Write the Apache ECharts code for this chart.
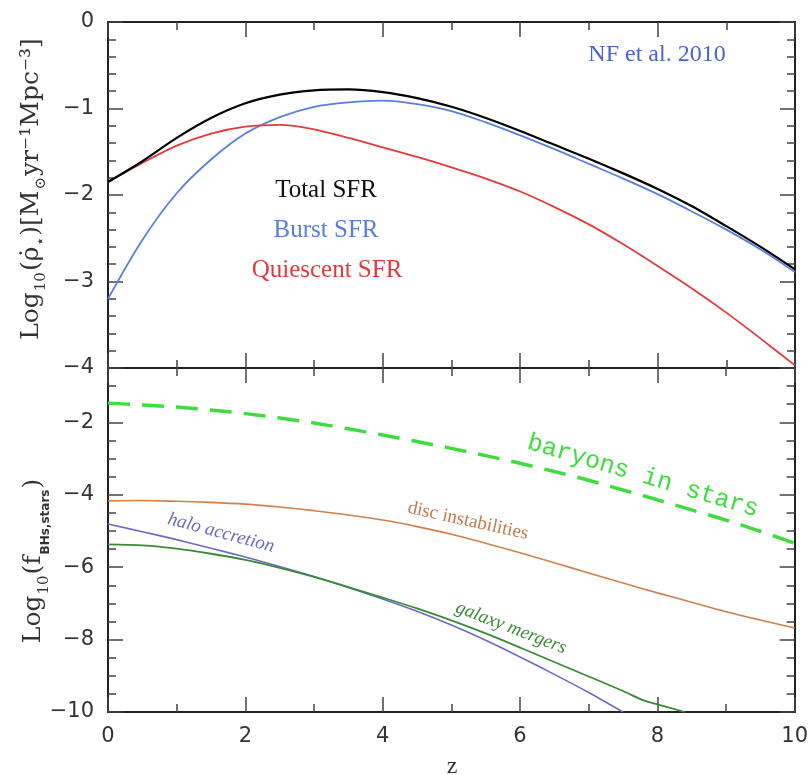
<!DOCTYPE html>
<html>
<head>
<meta charset="utf-8">
<script src="https://cdn.jsdelivr.net/npm/echarts@6/dist/echarts.min.js"></script>
<style>html,body{margin:0;padding:0;background:#fff;}#c{width:811px;height:775px;}</style>
</head>
<body>
<div id="c"></div>
<script>
// ---- data ----
const z = [0,0.5,1,1.5,2,2.5,3,3.5,4,4.5,5,5.5,6,6.5,7,7.5,8,8.5,9,9.5,10];
const totalSFR      = [-1.85,-1.61,-1.34,-1.11,-0.94,-0.84,-0.79,-0.78,-0.81,-0.88,-0.98,-1.11,-1.26,-1.42,-1.58,-1.75,-1.93,-2.13,-2.36,-2.60,-2.86];
const burstSFR      = [-3.20,-2.52,-1.98,-1.59,-1.29,-1.10,-0.98,-0.93,-0.91,-0.95,-1.03,-1.16,-1.31,-1.47,-1.64,-1.81,-1.99,-2.19,-2.40,-2.63,-2.89];
const quiescentSFR  = [-1.85,-1.63,-1.43,-1.29,-1.21,-1.19,-1.24,-1.34,-1.45,-1.56,-1.68,-1.81,-1.96,-2.14,-2.34,-2.57,-2.82,-3.08,-3.36,-3.66,-3.97];
const baryonsInStars    = [-1.47,-1.52,-1.58,-1.66,-1.76,-1.88,-2.02,-2.18,-2.35,-2.53,-2.72,-2.92,-3.13,-3.36,-3.60,-3.87,-4.14,-4.42,-4.70,-5.01,-5.34];
const discInstabilities = [-4.17,-4.16,-4.18,-4.21,-4.26,-4.34,-4.44,-4.56,-4.70,-4.88,-5.09,-5.34,-5.60,-5.88,-6.16,-6.44,-6.71,-6.97,-7.23,-7.46,-7.68];
const zHalo = [0,0.5,1,1.5,2,2.5,3,3.5,4,4.5,5,5.5,6,6.5,7,7.5];
const haloAccretion = [-4.81,-5.02,-5.24,-5.48,-5.72,-5.98,-6.26,-6.56,-6.88,-7.22,-7.60,-8.02,-8.48,-8.96,-9.46,-10.0];
const zMergers = [0,0.5,1,1.5,2,2.5,3,3.5,4,4.5,5,5.5,6,6.5,7,7.5,7.8,8,8.4];
const galaxyMergers = [-5.37,-5.40,-5.49,-5.63,-5.80,-6.02,-6.27,-6.55,-6.84,-7.14,-7.47,-7.83,-8.22,-8.62,-9.02,-9.42,-9.68,-9.79,-10.0];
const xTicks = [0,2,4,6,8,10];

const pair = (xs, ys) => xs.map((x, i) => [x, ys[i]]);
const minus = v => String(v).replace('-', '\u2212');

const axisCol = '#222';
function xAx(grid, pos, labels) {
  return {
    type: 'value', gridIndex: grid, position: pos, min: 0, max: 10, interval: 2,
    axisLine: { show: true, onZero: false, lineStyle: { color: axisCol, width: 2 } },
    axisTick: { show: true, inside: true, length: 15, lineStyle: { color: '#444', width: 1.5 } },
    minorTick: { show: true, splitNumber: 2, length: 8, lineStyle: { color: '#444', width: 1.5 } },
    splitLine: { show: false },
    axisLabel: { show: labels, fontFamily: 'DejaVu Sans', fontSize: 21, color: '#333', margin: 14,
      formatter: v => xTicks.includes(v) ? String(v) : '' }
  };
}
function yAx(grid, pos, labels, min, max, interval, minorSplit) {
  return {
    type: 'value', gridIndex: grid, position: pos, min: min, max: max, interval: interval,
    axisLine: { show: true, onZero: false, lineStyle: { color: axisCol, width: 2 } },
    axisTick: { show: true, inside: true, length: 15, lineStyle: { color: '#444', width: 1.5 } },
    minorTick: { show: true, splitNumber: minorSplit, length: 8, lineStyle: { color: '#444', width: 1.5 } },
    splitLine: { show: false },
    axisLabel: { show: labels, fontFamily: 'DejaVu Sans', fontSize: 21, color: '#333', margin: 14,
      showMaxLabel: max === 0, formatter: minus }
  };
}

function line(name, xi, yi, data, color, width, dashed) {
  return {
    type: 'line', name: name, xAxisIndex: xi, yAxisIndex: yi, data: data,
    showSymbol: false, smooth: 0.3, clip: true, z: 3,
    lineStyle: { color: color, width: width, type: dashed ? [22, 12] : 'solid' }
  };
}

const chart = echarts.init(document.getElementById('c'), null, { renderer: 'canvas' });
chart.setOption({
  animation: false,
  backgroundColor: '#fff',
  grid: [
    { left: 108, top: 22, width: 687, height: 346 },
    { left: 108, top: 368, width: 687, height: 344 }
  ],
  xAxis: [ xAx(0, 'bottom', false), xAx(0, 'top', false), xAx(1, 'bottom', true), xAx(1, 'top', false) ],
  yAxis: [
    yAx(0, 'left', true, -4, 0, 1, 5), yAx(0, 'right', false, -4, 0, 1, 5),
    yAx(1, 'left', true, -10, -0.5, 2, 4), yAx(1, 'right', false, -10, -0.5, 2, 4)
  ],
  series: [
    line('Burst SFR', 0, 0, pair(z, burstSFR), '#5a7ee0', 1.8),
    line('Quiescent SFR', 0, 0, pair(z, quiescentSFR), '#e23b3b', 1.8),
    line('Total SFR', 0, 0, pair(z, totalSFR), '#000000', 2.2),
    line('baryons in stars', 2, 2, pair(z, baryonsInStars), '#3fdc3f', 3.5, true),
    line('disc instabilities', 2, 2, pair(z, discInstabilities), '#d0804c', 1.6),
    line('halo accretion', 2, 2, pair(zHalo, haloAccretion), '#6b6bc4', 1.6),
    line('galaxy mergers', 2, 2, pair(zMergers, galaxyMergers), '#3a8a36', 1.8)
  ],
  graphic: [
    { type: 'text', x: 452, y: 767, style: { text: 'z', font: '24px "Liberation Serif"', fill: '#333', align: 'center', verticalAlign: 'middle' } },
    { type: 'text', x: 657, y: 55, style: { text: 'NF et al. 2010', font: '24px "Liberation Serif"', fill: '#4a64cc', align: 'center', verticalAlign: 'middle' } },
    { type: 'text', x: 326, y: 190, style: { text: 'Total SFR', font: '25px "Liberation Serif"', fill: '#111', align: 'center', verticalAlign: 'middle' } },
    { type: 'text', x: 326, y: 230, style: { text: 'Burst SFR', font: '25px "Liberation Serif"', fill: '#5a7ee0', align: 'center', verticalAlign: 'middle' } },
    { type: 'text', x: 327, y: 270, style: { text: 'Quiescent SFR', font: '25px "Liberation Serif"', fill: '#e03c3c', align: 'center', verticalAlign: 'middle' } },
    { type: 'text', x: 643, y: 476, rotation: -16.5 * Math.PI / 180, style: { text: 'baryons in stars', font: '25px "Liberation Mono"', fill: '#3fdc3f', align: 'center', verticalAlign: 'middle' } },
    { type: 'text', x: 468, y: 521, rotation: -12.5 * Math.PI / 180, style: { text: 'disc instabilities', font: '19px "Liberation Serif"', fill: '#c07a50', align: 'center', verticalAlign: 'middle' } },
    { type: 'text', x: 221, y: 533, rotation: -15 * Math.PI / 180, style: { text: 'halo accretion', font: 'italic 19px "Liberation Serif"', fill: '#6b6bc4', align: 'center', verticalAlign: 'middle' } },
    { type: 'text', x: 511, y: 628, rotation: -21 * Math.PI / 180, style: { text: 'galaxy mergers', font: 'italic 19px "Liberation Serif"', fill: '#3a8a36', align: 'center', verticalAlign: 'middle' } },
    { type: 'text', x: 34, y: 189, rotation: Math.PI / 2, style: {
        text: '{n|Log}{s|10}{n|(ρ̇}{s|⋆}{n|)[M}{s|⊙}{n|yr⁻¹Mpc⁻³]}',
        align: 'center', verticalAlign: 'middle',
        rich: {
          n: { fontFamily: 'DejaVu Serif', fontSize: 25, fill: '#333', color: '#333', verticalAlign: 'bottom', padding: [0, 0, 5, 0] },
          s: { fontFamily: 'DejaVu Serif', fontSize: 15, fill: '#333', color: '#333', verticalAlign: 'bottom', padding: [0, 1, 0, 1] }
        } } },
    { type: 'text', x: 36, y: 561, rotation: Math.PI / 2, style: {
        text: '{n|Log}{s|10}{n|(f}{b|BHs,stars}{n|)}',
        align: 'center', verticalAlign: 'middle',
        rich: {
          n: { fontFamily: 'DejaVu Serif', fontSize: 25, fill: '#333', color: '#333', verticalAlign: 'bottom', padding: [0, 0, 6, 0] },
          s: { fontFamily: 'DejaVu Serif', fontSize: 15, fill: '#333', color: '#333', verticalAlign: 'bottom', padding: [0, 1, 0, 1] },
          b: { fontFamily: 'DejaVu Sans', fontWeight: 'bold', fontSize: 12, fill: '#333', color: '#333', verticalAlign: 'bottom', padding: [0, 1, 0, 1] }
        } } }
  ]
});
</script>
</body>
</html>
